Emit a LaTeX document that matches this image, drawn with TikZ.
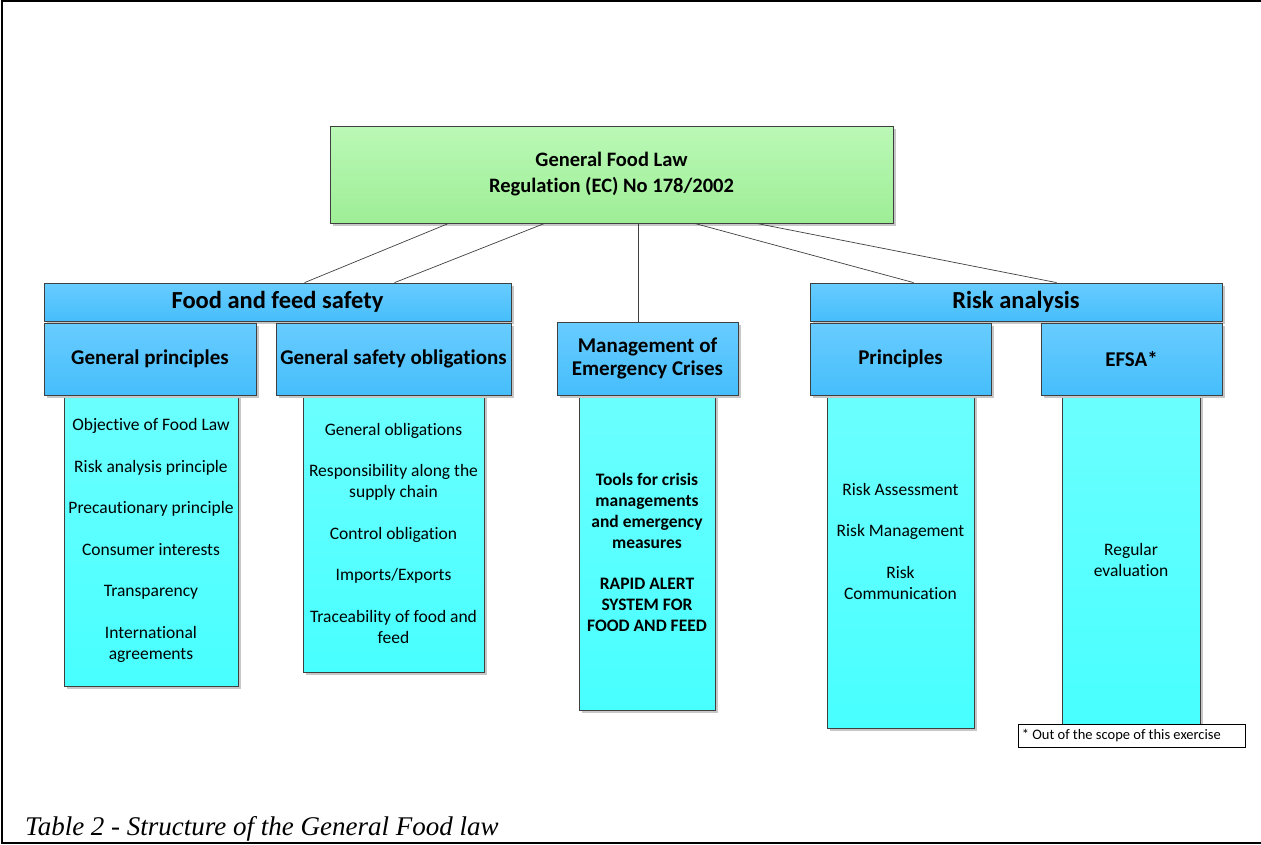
\documentclass[tikz,border=0pt]{standalone}
\usepackage{fontspec}
\setmainfont{Carlito}[Ligatures=NoCommon]
\newfontfamily\capfont{Liberation Serif}
\usetikzlibrary{shadows,calc}
\definecolor{bord}{HTML}{3F3F3F}
\definecolor{gtop}{HTML}{BAF8B6}
\definecolor{gbot}{HTML}{9EEE96}
\definecolor{btop}{HTML}{68CCFF}
\definecolor{bbot}{HTML}{46BEFB}
\definecolor{ctop}{HTML}{6BFFFF}
\definecolor{cbot}{HTML}{48FFFF}
\begin{document}
\begin{tikzpicture}[x=1pt,y=-1pt,
  box/.style={rectangle, draw=bord, line width=0.8pt, inner sep=0pt,
    drop shadow={shadow xshift=2.5pt, shadow yshift=-2.5pt, fill=black!22, opacity=1}},
  topbox/.style={box, top color=gtop, bottom color=gbot, align=center,
    font=\bfseries\fontsize{20.5}{26}\selectfont},
  hdr/.style={box, top color=btop, bottom color=bbot, align=center,
    font=\bfseries\fontsize{21}{23}\selectfont},
  bar/.style={hdr, font=\bfseries\fontsize{24.5}{26}\selectfont},
  lst/.style={box, top color=ctop, bottom color=cbot},
  txt/.style={align=center, inner sep=0pt, font=\fontsize{17.5}{21}\selectfont},
  btxt/.style={txt, font=\bfseries\fontsize{17.5}{21}\selectfont},
  conn/.style={draw=bord, line width=0.7pt},
  note/.style={rectangle, draw=black, line width=0.8pt, fill=white, inner sep=0pt}
]
\useasboundingbox (0,0) rectangle (1261,844);
\fill[white] (0,0) rectangle (1261,844);
\draw[line width=2pt] (1261,1) -- (2,1) -- (2,843) -- (1261,843);

% list boxes
\node[lst, minimum width=174pt, minimum height=291pt] (l1) at (151,540.5) {};
\node[lst, minimum width=181pt, minimum height=277pt] (l2) at (393.5,533.5) {};
\node[lst, minimum width=136pt, minimum height=315pt] (l3) at (647,552.5) {};
\node[lst, minimum width=147pt, minimum height=333pt] (l4) at (900.5,561.5) {};
\node[lst, minimum width=138pt, minimum height=329pt] (l5) at (1131,559.5) {};

% top box
\node[topbox, minimum width=563pt, minimum height=97pt] (top) at (611.5,174.5)
  {General Food Law\\Regulation (EC) No 178/2002};

% headers
\node[bar, minimum width=467pt, minimum height=38pt] (ffs) at (277.5,302) {Food and feed safety};
\node[hdr, minimum width=212pt, minimum height=72pt] (gp) at (150,359) {General principles};
\node[hdr, minimum width=235pt, minimum height=72pt] (gso) at (393.5,359) {General safety obligations};
\node[hdr, minimum width=181pt, minimum height=73pt] (mec) at (647.5,358.5) {Management of\\Emergency Crises};
\node[bar, minimum width=412pt, minimum height=38pt] (ra) at (1016,302) {Risk analysis};
\node[hdr, minimum width=181pt, minimum height=72pt] (pr) at (900.5,359) {Principles};
\node[hdr, minimum width=181pt, minimum height=72pt] (ef) at (1131.5,359) {EFSA*};

% connectors
\draw[conn] ($(top.south west)+(119,0)$) -- ($(ffs.north west)+(261,0)$);
\draw[conn] ($(top.south west)+(215,0)$) -- ($(ffs.north west)+(351,0)$);
\draw[conn] ($(top.south west)+(309,0)$) -- ($(mec.north west)+(82,0)$);
\draw[conn] ($(top.south west)+(365,0)$) -- ($(ra.north west)+(104,0)$);
\draw[conn] ($(top.south west)+(427,0)$) -- ($(ra.north west)+(247,0)$);

% list texts
\node[txt] (t1) at (151,540.5) {Objective of Food Law\\[20.5pt]Risk analysis principle\\[20.5pt]Precautionary principle\\[20.5pt]Consumer interests\\[20.5pt]Transparency\\[20.5pt]International\\agreements};
\node[txt] (t2) at (393.5,533) {General obligations\\[20.5pt]Responsibility along the\\supply chain\\[20.5pt]Control obligation\\[20.5pt]Imports/Exports\\[20.5pt]Traceability of food and\\feed};
\node[btxt] (t3) at (647,552) {Tools for crisis\\managements\\and emergency\\measures\\[20pt]RAPID ALERT\\SYSTEM FOR\\FOOD AND FEED};
\node[txt] (t4) at (900.5,541) {Risk Assessment\\[20.5pt]Risk Management\\[20.5pt]Risk\\Communication};
\node[txt] (t5) at (1131,559.5) {Regular\\evaluation};

% footnote
\node[note, minimum width=227pt, minimum height=23pt] (fn) at (1131.5,735.5) {};
\node[anchor=west, inner sep=0pt, font=\fontsize{14.5}{16}\selectfont] (fnt) at ($(fn.west)+(4,0)$) {* Out of the scope of this exercise};

% caption
\node[anchor=base west, inner sep=0pt, font=\capfont\itshape\fontsize{27}{30}\selectfont] (cap) at (25,835) {Table 2 - Structure of the General Food law};
\end{tikzpicture}
\end{document}
